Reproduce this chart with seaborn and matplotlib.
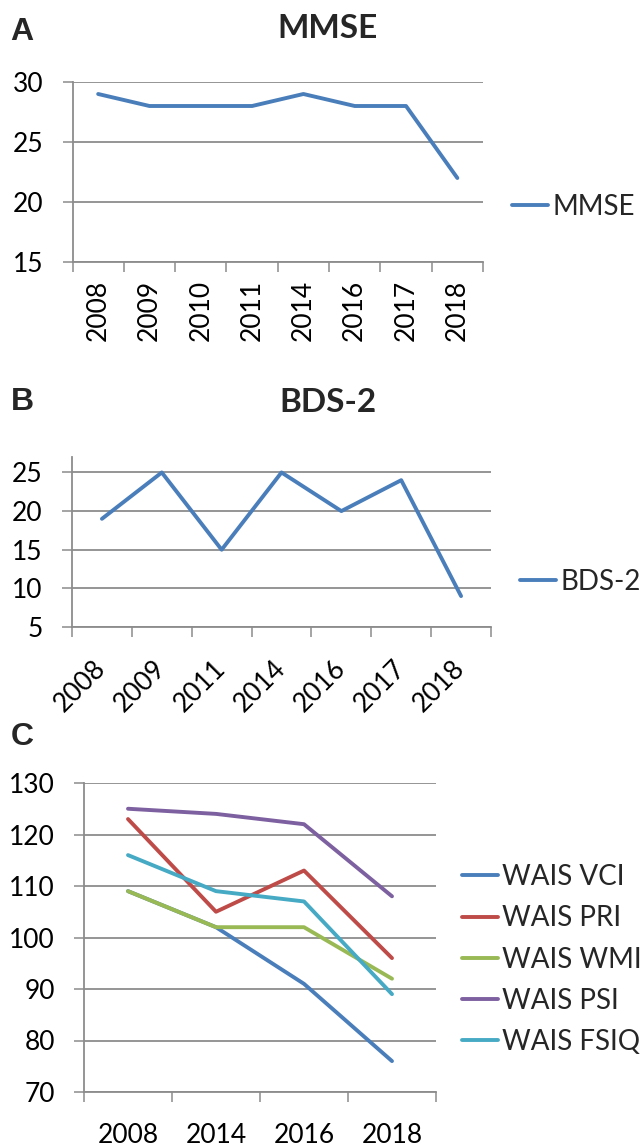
import numpy as np
import pandas as pd
import seaborn as sns
import matplotlib.pyplot as plt

# Scores
mmse_years = ["2008", "2009", "2010", "2011", "2014", "2016", "2017", "2018"]
mmse_scores = [29, 28, 28, 28, 29, 28, 28, 22]

bds_years = ["2008", "2009", "2011", "2014", "2016", "2017", "2018"]
bds_scores = [19, 25, 15, 25, 20, 24, 9]

wais_years = ["2008", "2014", "2016", "2018"]
wais_vci = [109, 102, 91, 76]
wais_pri = [123, 105, 113, 96]
wais_wmi = [109, 102, 102, 92]
wais_psi = [125, 124, 122, 108]
wais_fsiq = [116, 109, 107, 89]
wais_names = ["WAIS VCI", "WAIS PRI", "WAIS WMI", "WAIS PSI", "WAIS FSIQ"]
wais_colors = ["#4A7EBB", "#BE4B48", "#98B954", "#7D60A0", "#46AAC5"]

GRAY = "#8c8c8c"
W, H = 641, 1146

sns.set_style("white")
plt.rcParams['font.family'] = ['Lato', 'DejaVu Sans']

fig = plt.figure(figsize=(W / 100, H / 100), dpi=100)


def px_axes(left, right, top, bottom):
    return fig.add_axes([left / W, 1 - bottom / H, (right - left) / W, (bottom - top) / H])


def style_axis(ax, years, ylim, yticks, rot, xpad):
    n = len(years)
    ax.set_xlim(-0.5, n - 0.5)
    ax.set_ylim(*ylim)
    ax.set_xticks(range(n))
    if rot == 45:
        ax.set_xticklabels(years, rotation=45, ha="right", va="center",
                           rotation_mode="anchor")
    else:
        ax.set_xticklabels(years, rotation=rot)
    ax.set_xticks(np.arange(-0.5, n), minor=True)
    ax.set_yticks(yticks)
    ax.tick_params(axis="x", which="major", length=0, pad=xpad,
                   labelsize=19, labelcolor="black")
    ax.tick_params(axis="x", which="minor", bottom=True, length=7, width=1.1,
                   color=GRAY, direction="out")
    ax.tick_params(axis="y", left=True, length=7, width=1.1, color=GRAY,
                   pad=14, labelsize=19, labelcolor="black")
    ax.yaxis.grid(True, color=GRAY, linewidth=1.3)
    ax.xaxis.grid(False)
    ax.set_axisbelow(True)
    for s in ["top", "right"]:
        ax.spines[s].set_visible(False)
    for s in ["left", "bottom"]:
        ax.spines[s].set_color(GRAY)
        ax.spines[s].set_linewidth(1.3)
    ax.set_xlabel("")
    ax.set_ylabel("")


def add_legend(ax, x, y, spacing=0.55):
    handles, labels = ax.get_legend_handles_labels()
    ax.legend(handles, labels, loc="center left", bbox_to_anchor=(x / W, 1 - y / H),
              bbox_transform=fig.transFigure, frameon=False, fontsize=20,
              handlelength=1.3, handletextpad=0.15, borderpad=0,
              borderaxespad=0, labelspacing=spacing)


# Panel A: MMSE
df_a = pd.DataFrame({"pos": range(len(mmse_years)), "score": mmse_scores, "test": "MMSE"})
ax_a = px_axes(72.5, 483, 82, 262)
sns.lineplot(data=df_a, x="pos", y="score", hue="test", palette=["#4A7EBB"],
             linewidth=2.8, ax=ax_a, solid_capstyle="round")
style_axis(ax_a, mmse_years, (15, 30), [15, 20, 25, 30], 90, 13)
add_legend(ax_a, 512, 207)

# Panel B: BDS-2
df_b = pd.DataFrame({"pos": range(len(bds_years)), "score": bds_scores, "test": "BDS-2"})
ax_b = px_axes(72, 491, 457, 627)
sns.lineplot(data=df_b, x="pos", y="score", hue="test", palette=["#4A7EBB"],
             linewidth=2.8, ax=ax_b, solid_capstyle="round")
style_axis(ax_b, bds_years, (5, 27), [5, 10, 15, 20, 25], 45, 27)
add_legend(ax_b, 520, 582)

# Panel C: WAIS indices
wais_values = [wais_vci, wais_pri, wais_wmi, wais_psi, wais_fsiq]
rows = []
for name, vals in zip(wais_names, wais_values):
    for i, v in enumerate(vals):
        rows.append({"pos": i, "score": v, "index": name})
df_c = pd.DataFrame(rows)
ax_c = px_axes(84, 436, 783, 1092)
sns.lineplot(data=df_c, x="pos", y="score", hue="index", hue_order=wais_names,
             palette=wais_colors, linewidth=2.8, ax=ax_c, solid_capstyle="round")
style_axis(ax_c, wais_years, (70, 130), list(range(70, 131, 10)), 0, 22)
add_legend(ax_c, 462, 959.5)

# Titles and panel letters
fig.text(328 / W, 1 - 28 / H, "MMSE", ha="center", va="center",
         fontsize=24, fontweight="bold")
fig.text(328 / W, 1 - 402 / H, "BDS-2", ha="center", va="center",
         fontsize=24, fontweight="bold")
for letter, yy in [("A", 32), ("B", 402), ("C", 737)]:
    fig.text(22 / W, 1 - yy / H, letter, ha="center", va="center", fontsize=23,
             fontweight="bold", family="Liberation Sans")

fig.savefig("out.png", dpi=100)
